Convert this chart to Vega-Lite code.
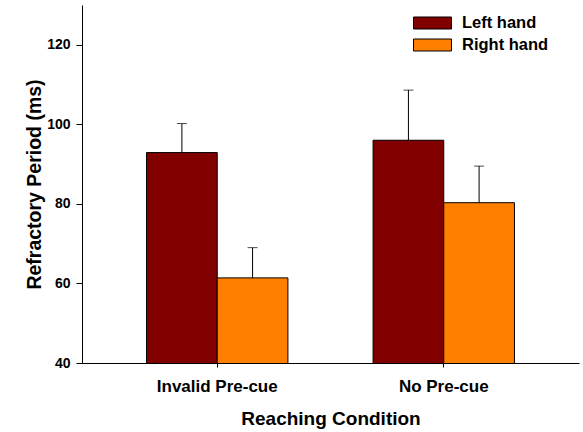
{
  "$schema": "https://vega.github.io/schema/vega-lite/v6.json",
  "width": 497,
  "height": 358,
  "autosize": {"type": "none"},
  "padding": {"left": 82, "top": 5, "right": 4, "bottom": 69},
  "background": "white",
  "config": {"view": {"stroke": null}, "font": "Liberation Sans"},
  "data": {
    "values": [
      {"condition": "Invalid Pre-cue", "hand": "Left hand", "value": 92.9, "upper": 100.2},
      {"condition": "Invalid Pre-cue", "hand": "Right hand", "value": 61.4, "upper": 69.0},
      {"condition": "No Pre-cue", "hand": "Left hand", "value": 96.0, "upper": 108.6},
      {"condition": "No Pre-cue", "hand": "Right hand", "value": 80.3, "upper": 89.5}
    ]
  },
  "encoding": {
    "x": {
      "field": "condition",
      "type": "nominal",
      "sort": ["Invalid Pre-cue", "No Pre-cue"],
      "scale": {"paddingInner": 0.376, "paddingOuter": 0.285},
      "title": "Reaching Condition",
      "axis": {
        "labelAngle": 0,
        "labelFontSize": 17,
        "labelFontWeight": "bold",
        "labelColor": "black",
        "labelPadding": 11,
        "tickSize": 4,
        "tickColor": "black",
        "domainColor": "black",
        "titleFontSize": 19,
        "titleFontWeight": "bold",
        "titleColor": "black",
        "titlePadding": 15
      }
    },
    "xOffset": {
      "field": "hand",
      "type": "nominal",
      "sort": ["Left hand", "Right hand"],
      "scale": {"paddingInner": 0, "paddingOuter": 0}
    }
  },
  "layer": [
    {
      "mark": {"type": "bar", "stroke": "black", "strokeWidth": 1, "clip": true},
      "encoding": {
        "y": {
          "field": "value",
          "type": "quantitative",
          "scale": {"domain": [40, 130], "nice": false, "zero": false},
          "title": "Refractory Period (ms)",
          "axis": {
            "values": [40, 60, 80, 100, 120],
            "grid": false,
            "labelFontSize": 14,
            "labelFontWeight": "bold",
            "labelColor": "black",
            "labelPadding": 6,
            "tickSize": 6,
            "tickColor": "black",
            "domainColor": "black",
            "titleFontSize": 19.5,
            "titleFontWeight": "bold",
            "titleColor": "black",
            "titlePadding": 2
          }
        },
        "color": {
          "field": "hand",
          "type": "nominal",
          "scale": {"domain": ["Left hand", "Right hand"], "range": ["#800000", "#FF8000"]},
          "legend": {
            "orient": "none",
            "legendX": 331,
            "legendY": 9,
            "title": null,
            "padding": 0,
            "symbolType": "M-1,-0.3158H1V0.3158H-1Z",
            "symbolSize": 1444,
            "symbolStrokeColor": "black",
            "symbolStrokeWidth": 1,
            "symbolOpacity": 1,
            "labelFontSize": 16.5,
            "labelFontWeight": "bold",
            "labelColor": "black",
            "labelOffset": 10,
            "clipHeight": 18,
            "rowPadding": 4
          }
        }
      }
    },
    {
      "mark": {"type": "rule", "color": "black", "strokeWidth": 1},
      "encoding": {
        "y": {"field": "value", "type": "quantitative"},
        "y2": {"field": "upper"}
      }
    },
    {
      "mark": {"type": "tick", "color": "black", "thickness": 1, "size": 10, "orient": "horizontal"},
      "encoding": {
        "y": {"field": "upper", "type": "quantitative"}
      }
    }
  ]
}
